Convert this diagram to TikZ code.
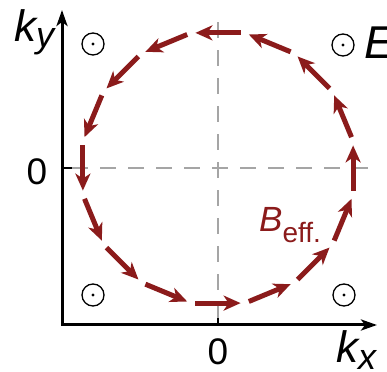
\documentclass[tikz,border=0pt]{standalone}
\usepackage{fontspec}
\setmainfont{Liberation Sans}
\usetikzlibrary{arrows.meta, positioning, calc}
\definecolor{fieldred}{RGB}{139,27,27}
\definecolor{guidegray}{RGB}{165,165,165}

\tikzset{
  axis/.style={line width=3pt, {Stealth[length=16pt,width=11pt,inset=4pt]}-{Stealth[length=16pt,width=11pt,inset=4pt]}},
  tick/.style={line width=2.5pt},
  guide/.style={guidegray, line width=1.3pt, dash pattern=on 16pt off 12pt},
  spin/.style={fieldred, line width=5pt, -{Stealth[length=17pt,width=15pt,inset=5pt]}},
  odot/.style={circle, draw, line width=1.3pt, minimum size=22pt, inner sep=0pt,
    path picture={\fill (path picture bounding box.center) circle (1.6pt);}},
  lbl/.style={inner sep=0pt, anchor=base west}
}

\begin{document}
\begin{tikzpicture}[x=1pt,y=1pt]
  \useasboundingbox (0,0) rectangle (387,371);

  \coordinate (O) at (62,46);
  \coordinate (C) at (218,203);
  \coordinate (ytip) at (62,361);
  \coordinate (xtip) at (377,46);
  \coordinate (xtick) at (218,53); % top of the tick on k_x
  \coordinate (ytick) at (72,203); % end of the tick on k_y
  \coordinate (xend) at (375,203);
  \coordinate (yend) at (218,359);

  % dashed guides through the origin
  \draw[guide] (ytick) -- (xend);
  \draw[guide] (xtick) -- (yend);

  % axes and ticks
  \draw[axis] (ytip) -- (O) -- (xtip);
  \draw[tick] (O -| xtick) -- (xtick);
  \draw[tick] (O |- ytick) -- (ytick);

  % field pointing out of the plane
  \node[odot] (tl) at (93,327) {};
  \node[odot] (tr) at (343,326) {};
  \node[odot] (bl) at (93,76) {};
  \node[odot] (br) at (344,76) {};

  % effective field around the Fermi circle
  \foreach \a in {0,22.5,...,337.5}
    \draw[spin] ($(C)+(\a-9.5:137)$) -- ($(C)+(\a+9.5:137)$);

  % labels
  \node[lbl] (ky) at (14,329) {\fontsize{44}{48}\selectfont\itshape k\raisebox{-5.5pt}{\fontsize{36}{40}\selectfont y}};
  \node[lbl] (kx) at (336,9) {\fontsize{44}{48}\selectfont\itshape k\raisebox{-7pt}{\fontsize{36}{40}\selectfont x}};
  \node[inner sep=0pt] (y0) at (37,199) {\fontsize{37}{40}\selectfont 0};
  \node[inner sep=0pt] (x0) at (218,19) {\fontsize{37}{40}\selectfont 0};
  \node[lbl] (E) at (364,312) {\fontsize{46}{50}\selectfont\itshape E};
  \node[lbl, text=fieldred] (Beff) at (259,139) {\fontsize{35}{38}\selectfont\itshape B\raisebox{-11pt}{\fontsize{28}{30}\selectfont\upshape eff.}};
\end{tikzpicture}
\end{document}
